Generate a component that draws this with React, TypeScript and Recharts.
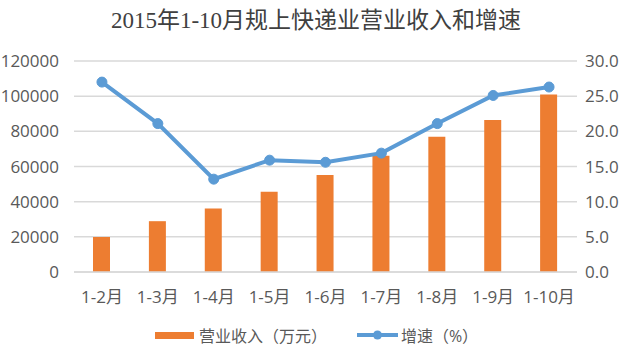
import {
  ComposedChart,
  Bar,
  Line,
  XAxis,
  YAxis,
  CartesianGrid,
  Legend,
} from "recharts";

const CATEGORIES = ["1-2月", "1-3月", "1-4月", "1-5月", "1-6月", "1-7月", "1-8月", "1-9月", "1-10月"];
const REVENUE = [19900, 28900, 36100, 45600, 55100, 66100, 76900, 86400, 101000];
const GROWTH = [27.0, 21.1, 13.2, 15.9, 15.6, 16.9, 21.1, 25.1, 26.3];
const LEFT_TICKS = [0, 20000, 40000, 60000, 80000, 100000, 120000];
const RIGHT_TICKS = [0, 5, 10, 15, 20, 25, 30];

const TITLE = "2015年1-10月规上快递业营业收入和增速";
const REVENUE_NAME = "营业收入（万元）";
const GROWTH_NAME = "增速（%）";

const ORANGE = "#ED7D31";
const BLUE = "#5B9BD5";
const TEXT = "#595959";
const FONT = '"Open Sans", "Noto Sans CJK SC", sans-serif';

const data = CATEGORIES.map((name, i) => ({
  name,
  revenue: REVENUE[i],
  growth: GROWTH[i],
}));

function LegendContent() {
  return (
    <div
      style={{
        height: 24,
        display: "flex",
        justifyContent: "center",
        alignItems: "center",
        fontFamily: FONT,
        fontSize: 16,
        color: TEXT,
      }}
    >
      <span style={{ display: "inline-block", width: 39, height: 7, background: ORANGE, marginRight: 5 }} />
      <span>{REVENUE_NAME}</span>
      <svg width={41} height={12} style={{ marginLeft: 30, marginRight: 3 }}>
        <line x1={0} y1={6} x2={41} y2={6} stroke={BLUE} strokeWidth={4} strokeLinecap="round" />
        <circle cx={20.5} cy={6} r={4.5} fill={BLUE} />
      </svg>
      <span>{GROWTH_NAME}</span>
    </div>
  );
}

export default function App() {
  return (
    <div style={{ width: 633, height: 351, background: "#fff" }}>
      <style>{"body{margin:0}"}</style>
      <ComposedChart
        width={633}
        height={351}
        data={data}
        margin={{ top: 61, right: 0, bottom: 4, left: 0 }}
        barCategoryGap="34%"
      >
        <text
          x={316}
          y={28}
          textAnchor="middle"
          fontFamily='"Liberation Serif", "Noto Sans CJK SC", serif'
          fontSize={23}
          fill="#404040"
        >
          {TITLE}
        </text>
        <CartesianGrid vertical={false} stroke="#D9D9D9" strokeWidth={1.5} yAxisId="left" />
        <XAxis
          dataKey="name"
          height={51}
          tickLine={false}
          axisLine={{ stroke: "#D9D9D9", strokeWidth: 1.5 }}
          tickMargin={13}
          tick={{ fill: TEXT, fontSize: 17, fontFamily: FONT }}
        />
        <YAxis
          yAxisId="left"
          width={74}
          domain={[0, 120000]}
          ticks={LEFT_TICKS}
          tickLine={false}
          axisLine={false}
          tickMargin={9}
          tick={{ fill: TEXT, fontSize: 17, fontFamily: FONT }}
        />
        <YAxis
          yAxisId="right"
          orientation="right"
          width={56}
          domain={[0, 30]}
          ticks={RIGHT_TICKS}
          tickFormatter={(v: number) => v.toFixed(1)}
          tickLine={false}
          axisLine={false}
          tickMargin={2}
          tick={{ fill: TEXT, fontSize: 17, fontFamily: FONT, textAnchor: "start" }}
        />
        <Bar
          yAxisId="left"
          dataKey="revenue"
          name={REVENUE_NAME}
          fill={ORANGE}
          barSize={17}
          isAnimationActive={false}
        />
        <Line
          yAxisId="right"
          dataKey="growth"
          name={GROWTH_NAME}
          stroke={BLUE}
          strokeWidth={4}
          dot={{ r: 5, fill: BLUE, stroke: BLUE, strokeWidth: 1 }}
          activeDot={false}
          isAnimationActive={false}
        />
        <Legend verticalAlign="bottom" content={<LegendContent />} />
      </ComposedChart>
    </div>
  );
}
